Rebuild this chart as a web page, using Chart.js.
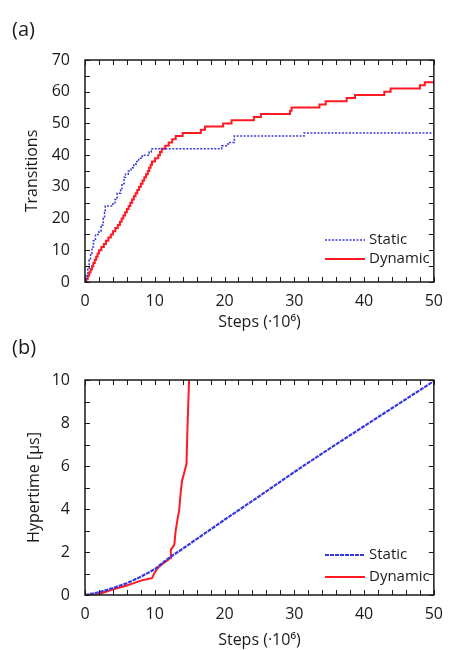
<!DOCTYPE html>
<html>
<head>
<meta charset="utf-8">
<script src="https://cdn.jsdelivr.net/npm/chart.js@4.4.1/dist/chart.umd.min.js"></script>
<style>
  body { margin: 0; background: #fff; width: 453px; height: 650px; position: relative; overflow: hidden; font-family: "Open Sans", sans-serif; }
  canvas { position: absolute; left: 0; }
  .tag { position: absolute; left: 12px; font-size: 20px; line-height: 22px; color: #1a1a1a; }
</style>
</head>
<body>
<canvas id="chartA" style="top:0" width="453" height="335"></canvas>
<canvas id="chartB" style="top:335px" width="453" height="315"></canvas>
<div class="tag" style="top:18px">(a)</div>
<div class="tag" style="top:336px">(b)</div>
<script>
// (a) transitions, step data: x = steps (1e6), y = count from that x on
const staticStepsA = [0, 0.2, 0.4, 0.6, 0.8, 1.0, 1.2, 1.5, 2.0, 2.3, 2.6, 2.8, 2.9, 4.0, 4.3, 4.6, 5.1, 5.3, 5.6, 5.8, 6.2, 6.6, 7.0, 7.3, 7.7, 8.2, 9.2, 9.5, 19.6, 20.5, 21.4, 31.4, 50];
const staticTransA = [0, 2, 4, 7, 9, 11, 13, 15, 16, 18, 20, 22, 24, 25, 26, 28, 29, 31, 33, 34, 35, 36, 37, 38, 39, 40, 41, 42, 43, 44, 46, 47, 47];
const dynamicStepsA = [0, 0.2, 0.4, 0.6, 0.8, 1.0, 1.2, 1.4, 1.6, 1.8, 2.0, 2.35, 2.7, 3.0, 3.35, 3.7, 4.0, 4.35, 4.7, 5.0, 5.25, 5.5, 5.75, 6.0, 6.25, 6.5, 6.75, 7.0, 7.25, 7.5, 7.75, 8.0, 8.25, 8.5, 8.75, 9.0, 9.2, 9.4, 9.6, 10.05, 10.5, 10.75, 11.0, 11.5, 12.0, 12.5, 13.0, 14.0, 16.6, 17.2, 19.8, 21, 24.2, 25.2, 29.4, 29.6, 33.6, 34.5, 37.5, 38.7, 42.9, 43.8, 48, 48.7, 50];
const dynamicTransA = [0, 1, 2, 3, 4, 5, 6, 7, 8, 9, 10, 11, 12, 13, 14, 15, 16, 17, 18, 19, 20, 21, 22, 23, 24, 25, 26, 27, 28, 29, 30, 31, 32, 33, 34, 35, 36, 37, 38, 39, 40, 41, 42, 43, 44, 45, 46, 47, 48, 49, 50, 51, 52, 53, 54, 55, 56, 57, 58, 59, 60, 61, 62, 63, 63];

// (b) hypertime in microseconds
const staticStepsB = [0, 2, 4, 6, 8, 10, 12, 14, 16, 18, 20, 25, 30, 35, 40, 45, 50];
const staticTimeB = [0, 0.13, 0.32, 0.55, 0.85, 1.2, 1.72, 2.15, 2.6, 3.05, 3.5, 4.6, 5.72, 6.8, 7.85, 8.9, 9.95];
const dynamicStepsB = [0, 1, 2, 3, 4, 5, 6, 7, 8, 9, 9.6, 10, 10.5, 11.2, 11.9, 12.2, 12.3, 12.8, 13.0, 13.3, 13.5, 13.7, 13.9, 14.2, 14.55, 14.65, 14.8, 14.92];
const dynamicTimeB = [0, 0.01, 0.05, 0.15, 0.26, 0.35, 0.44, 0.55, 0.67, 0.74, 0.78, 1.05, 1.28, 1.47, 1.63, 1.72, 2.1, 2.33, 3.0, 3.6, 3.95, 4.7, 5.3, 5.66, 6.1, 7.4, 8.9, 10];

const seriesNames = ["Static", "Dynamic"];
const blue = "rgb(55,55,225)";
const red = "rgb(255,25,35)";
const ink = "#1a1a1a";
const fontFamily = "'Open Sans', sans-serif";

function pairs(xs, ys) {
  return xs.map((x, i) => ({ x: x, y: ys[i] }));
}

// box around the plot with inward ticks on every side
const framePlugin = {
  id: "frame",
  afterDatasetsDraw(chart, args, opts) {
    const { ctx, chartArea: a, scales: { x, y } } = chart;
    ctx.save();
    ctx.strokeStyle = ink;
    ctx.lineWidth = 1;
    ctx.beginPath();
    const nx = Math.round((x.max - x.min) / opts.xMinor);
    for (let i = 0; i <= nx; i++) {
      const px = Math.round(x.getPixelForValue(x.min + i * opts.xMinor)) + 0.5;
      ctx.moveTo(px, a.bottom); ctx.lineTo(px, a.bottom - 5);
      ctx.moveTo(px, a.top); ctx.lineTo(px, a.top + 5);
    }
    const ny = Math.round((y.max - y.min) / opts.yMinor);
    for (let i = 0; i <= ny; i++) {
      const py = Math.round(y.getPixelForValue(y.min + i * opts.yMinor)) + 0.5;
      ctx.moveTo(a.left, py); ctx.lineTo(a.left + 5, py);
      ctx.moveTo(a.right, py); ctx.lineTo(a.right - 5, py);
    }
    ctx.stroke();
    ctx.lineWidth = 1.5;
    ctx.strokeRect(a.left, a.top, a.right - a.left, a.bottom - a.top);
    ctx.restore();
  }
};

// gnuplot-like key inside the plot
const keyPlugin = {
  id: "key",
  afterDraw(chart, args, opts) {
    const ctx = chart.ctx;
    ctx.save();
    ctx.font = "15px " + fontFamily;
    ctx.textBaseline = "middle";
    chart.data.datasets.forEach((ds, i) => {
      const ky = opts.rows[i];
      ctx.strokeStyle = ds.borderColor;
      ctx.lineWidth = ds.borderWidth;
      ctx.setLineDash(ds.borderDash || []);
      ctx.beginPath();
      ctx.moveTo(opts.x0, ky);
      ctx.lineTo(opts.x1, ky);
      ctx.stroke();
      ctx.setLineDash([]);
      ctx.fillStyle = ink;
      ctx.fillText(ds.label, opts.x1 + 4, ky);
    });
    ctx.restore();
  }
};

function makeChart(id, cfg) {
  return new Chart(document.getElementById(id), {
    type: "line",
    data: {
      datasets: [
        {
          label: seriesNames[0],
          data: cfg.staticData,
          borderColor: blue,
          borderWidth: cfg.staticWidth,
          borderDash: cfg.staticDash,
          stepped: cfg.stepped,
          pointRadius: 0,
          tension: 0
        },
        {
          label: seriesNames[1],
          data: cfg.dynamicData,
          borderColor: red,
          borderWidth: 2,
          stepped: cfg.stepped,
          pointRadius: 0,
          tension: 0
        }
      ]
    },
    options: {
      responsive: false,
      animation: false,
      layout: { padding: { left: 0, right: 10, top: cfg.top, bottom: 0 } },
      plugins: {
        legend: { display: false },
        tooltip: { enabled: false },
        frame: { xMinor: 2, yMinor: cfg.yMinor },
        key: { x0: 325, x1: 365, rows: cfg.keyRows }
      },
      scales: {
        x: {
          type: "linear",
          min: 0,
          max: 50,
          grid: { display: false, drawTicks: false },
          border: { display: false },
          ticks: { stepSize: 10, padding: 10, color: ink, font: { family: fontFamily, size: 16 } },
          title: { display: true, text: "Steps (·10⁶)", color: ink, font: { family: fontFamily, size: 16 }, padding: { top: 0, bottom: cfg.xTitlePad } },
          afterFit(scale) { scale.height = cfg.xHeight; }
        },
        y: {
          min: 0,
          max: cfg.yMax,
          grid: { display: false, drawTicks: false },
          border: { display: false },
          ticks: { stepSize: cfg.yStep, padding: 15, color: ink, font: { family: fontFamily, size: 16 } },
          title: { display: true, text: cfg.yTitle, color: ink, font: { family: fontFamily, size: 16 }, padding: { top: cfg.yTitlePad, bottom: 0 } },
          afterFit(scale) { scale.width = 85; }
        }
      }
    },
    plugins: [framePlugin, keyPlugin]
  });
}

makeChart("chartA", {
  staticData: pairs(staticStepsA, staticTransA),
  dynamicData: pairs(dynamicStepsA, dynamicTransA),
  stepped: "before",
  staticWidth: 1.5,
  staticDash: [2, 1.5],
  top: 60,
  xHeight: 53,
  xTitlePad: 3,
  yMax: 70,
  yStep: 10,
  yMinor: 5,
  yTitle: "Transitions",
  yTitlePad: 23,
  keyRows: [240, 259]
});

makeChart("chartB", {
  staticData: pairs(staticStepsB, staticTimeB),
  dynamicData: pairs(dynamicStepsB, dynamicTimeB),
  stepped: false,
  staticWidth: 2.2,
  staticDash: [4, 1],
  top: 45,
  xHeight: 55,
  xTitlePad: 0,
  yMax: 10,
  yStep: 2,
  yMinor: 1,
  yTitle: "Hypertime [µs]",
  yTitlePad: 25,
  keyRows: [220, 242]
});
</script>
</body>
</html>
